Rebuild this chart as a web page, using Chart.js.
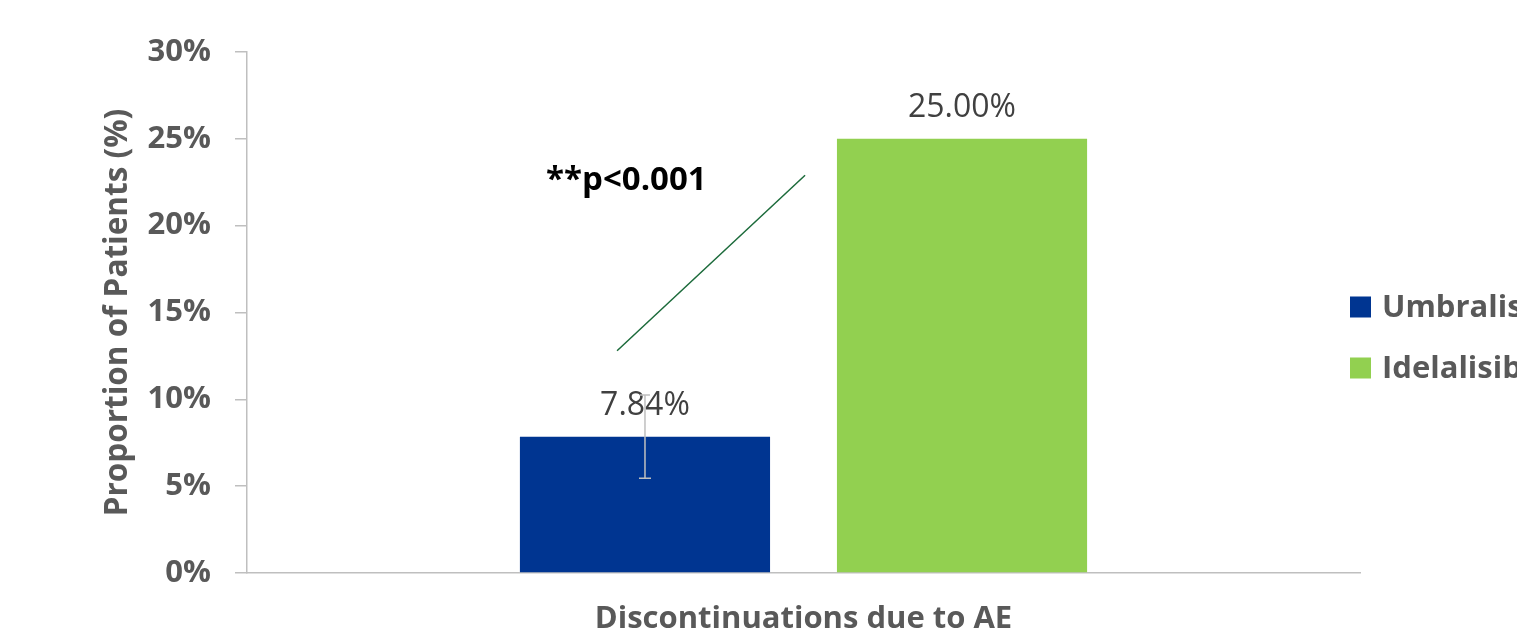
<!DOCTYPE html>
<html>
<head>
<meta charset="utf-8">
<script src="https://cdn.jsdelivr.net/npm/chart.js@4/dist/chart.umd.min.js"></script>
<style>
  html, body { margin: 0; padding: 0; background: #ffffff; overflow: hidden; }
  canvas { display: block; }
</style>
</head>
<body>
<canvas id="chart" width="1517" height="637"></canvas>
<script>
// Categories and series
const categories = ['Discontinuations due to AE'];
const seriesNames = ['Umbralisib', 'Idelalisib'];
const umbralisibValues = [7.84];
const idelalisibValues = [25.00];
// Error bar range for the Umbralisib bar (low, high)
const umbralisibErrLow = [5.45];
const umbralisibErrHigh = [10.25];
// Y axis ticks
const yTickValues = [0, 5, 10, 15, 20, 25, 30];
const pValueText = '**p<0.001';

const FONT = '"Open Sans", "DejaVu Sans", sans-serif';
const AXIS_GREY = '#bfbfbf';
const TEXT_GREY = '#595959';
const BLUE = '#003591';
const GREEN = '#92d050';

// Value labels above bars, e.g. "25.00%"
const valueLabels = {
  id: 'valueLabels',
  afterDatasetsDraw(chart) {
    const ctx = chart.ctx;
    ctx.save();
    ctx.font = '32px ' + FONT;
    ctx.fillStyle = '#404040';
    ctx.textAlign = 'center';
    ctx.textBaseline = 'middle';
    chart.data.datasets.forEach((ds, i) => {
      chart.getDatasetMeta(i).data.forEach((bar, j) => {
        ctx.fillText(ds.data[j].toFixed(2) + '%', bar.x, bar.y - 31);
      });
    });
    ctx.restore();
  }
};

// Error bar on the first series
const errorBars = {
  id: 'errorBars',
  afterDatasetsDraw(chart) {
    const ctx = chart.ctx;
    const y = chart.scales.y;
    const meta = chart.getDatasetMeta(0);
    ctx.save();
    ctx.strokeStyle = AXIS_GREY;
    ctx.lineWidth = 1.5;
    meta.data.forEach((bar, j) => {
      const yl = y.getPixelForValue(umbralisibErrLow[j]);
      const yh = y.getPixelForValue(umbralisibErrHigh[j]);
      ctx.beginPath();
      ctx.moveTo(bar.x, yl); ctx.lineTo(bar.x, yh);
      ctx.moveTo(bar.x - 6, yl); ctx.lineTo(bar.x + 6, yl);
      ctx.moveTo(bar.x - 5, yh); ctx.lineTo(bar.x + 5, yh);
      ctx.stroke();
    });
    ctx.restore();
  }
};

// Significance note with its connector line
const significance = {
  id: 'significance',
  afterDraw(chart) {
    const ctx = chart.ctx;
    const y = chart.scales.y;
    const a = chart.getDatasetMeta(0).data[0];
    const b = chart.getDatasetMeta(1).data[0];
    const span = b.x - a.x;
    ctx.save();
    ctx.strokeStyle = '#1b6a3a';
    ctx.lineWidth = 1.5;
    ctx.beginPath();
    ctx.moveTo(a.x - 0.088 * span, y.getPixelForValue(12.8));
    ctx.lineTo(a.x + 0.505 * span, y.getPixelForValue(22.9));
    ctx.stroke();
    ctx.font = 'bold 33px ' + FONT;
    ctx.fillStyle = '#000000';
    ctx.textAlign = 'left';
    ctx.textBaseline = 'middle';
    ctx.fillText(pValueText, a.x - 0.312 * span, y.getPixelForValue(22.6));
    ctx.restore();
  }
};

// Legend at the right edge
const sideLegend = {
  id: 'sideLegend',
  afterDraw(chart) {
    const ctx = chart.ctx;
    const x0 = chart.chartArea.right - 10;
    const rows = [307, 368];
    ctx.save();
    ctx.font = 'bold 31px ' + FONT;
    ctx.textAlign = 'left';
    ctx.textBaseline = 'middle';
    chart.data.datasets.forEach((ds, i) => {
      ctx.fillStyle = ds.backgroundColor;
      ctx.fillRect(x0, rows[i] - 10.5, 21, 21);
      ctx.fillStyle = TEXT_GREY;
      ctx.fillText(ds.label, x0 + 32, rows[i] + 1);
    });
    ctx.restore();
  }
};

new Chart(document.getElementById('chart'), {
  type: 'bar',
  data: {
    labels: categories,
    datasets: [
      { label: seriesNames[0], data: umbralisibValues, backgroundColor: BLUE },
      { label: seriesNames[1], data: idelalisibValues, backgroundColor: GREEN }
    ]
  },
  options: {
    responsive: false,
    animation: false,
    devicePixelRatio: 1,
    categoryPercentage: 0.5697,
    barPercentage: 0.789,
    layout: { padding: { top: 52, right: 157, bottom: 0, left: 0 } },
    plugins: {
      legend: { display: false },
      tooltip: { enabled: false }
    },
    scales: {
      x: {
        grid: { display: false, drawTicks: false },
        border: { display: true, color: AXIS_GREY, width: 1.5 },
        ticks: {
          color: TEXT_GREY,
          font: { family: FONT, size: 31, weight: 'bold' },
          padding: 28
        },
        afterFit(scale) { scale.height = 64; }
      },
      y: {
        min: 0,
        max: 30,
        afterBuildTicks(scale) { scale.ticks = yTickValues.map(v => ({ value: v })); },
        grid: { drawOnChartArea: false, drawTicks: true, tickLength: 12, color: AXIS_GREY, lineWidth: 1.5 },
        border: { display: true, color: AXIS_GREY, width: 1.5 },
        ticks: {
          color: TEXT_GREY,
          font: { family: FONT, size: 31, weight: 'bold' },
          padding: 24,
          callback: v => v + '%'
        },
        title: {
          display: true,
          text: 'Proportion of Patients (%)',
          color: TEXT_GREY,
          font: { family: FONT, size: 31.5, weight: 'bold' },
          padding: { top: 99, bottom: 0 }
        },
        afterFit(scale) { scale.width = 247; }
      }
    }
  },
  plugins: [valueLabels, errorBars, significance, sideLegend]
});
</script>
</body>
</html>
